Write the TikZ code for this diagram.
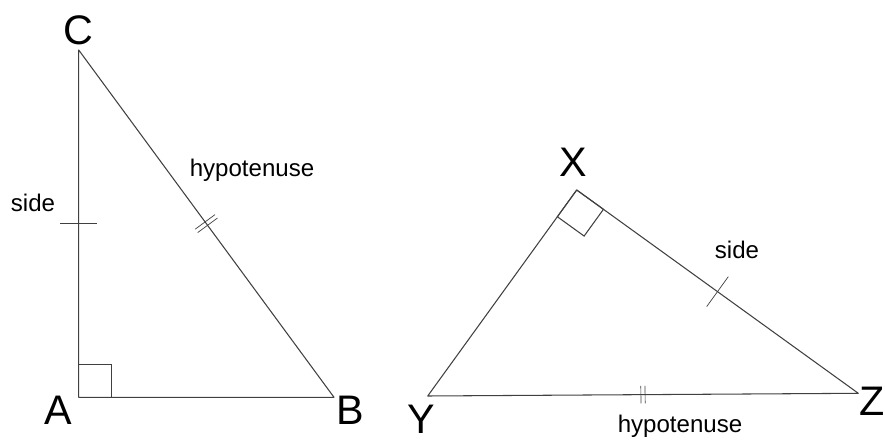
\documentclass[tikz,border=0pt]{standalone}
\usepackage{fontspec}
\setmainfont{Liberation Sans}
\usepackage{tkz-euclide}
\usetikzlibrary{calc}
\definecolor{LineClr}{rgb}{0.25,0.25,0.25}

\begin{document}
\begin{tikzpicture}[
  vtx/.style={font=\fontsize{23.5}{26}\selectfont},
  lbl/.style={font=\fontsize{13.7}{16}\selectfont}]
\useasboundingbox (0,0) rectangle (17.7,8.92);
\tkzSetUpLine[line width=0.6pt,color=LineClr]

\tkzDefPoints{1.574/0.974/A,6.68/0.974/B,1.574/7.92/C}
\tkzDefPoints{11.534/5.12/X,8.554/1.0/Y,17.166/1.054/Z}

\tkzDrawPolygon(A,B,C)
\tkzDrawPolygon(X,Y,Z)

\tkzMarkRightAngles[line width=0.6pt,size=.66,color=LineClr](B,A,C Y,X,Z)

\tkzMarkSegments[mark=|,size=10.5pt,color=LineClr](A,C X,Z)
\tkzMarkSegment[mark=||,size=7pt,color=LineClr](C,B)
\tkzMarkSegment[mark=||,size=5pt,color=LineClr](Y,Z)

\node[vtx] (lC) at ($(C)+(0,0.40)$) {C};
\node[vtx] (lA) at ($(A)+(-0.414,-0.254)$) {A};
\node[vtx] (lB) at ($(B)+(0.32,-0.254)$) {B};
\node[vtx] (lX) at ($(X)+(-0.06,0.55)$) {X};
\node[vtx] (lY) at ($(Y)+(-0.12,-0.46)$) {Y};
\node[vtx,inner sep=0pt] (lZ) at ($(Z)+(0.27,-0.16)$) {Z};

\node[lbl] (sideAC) at (0.66,4.86) {side};
\node[lbl] (hypCB) at (5.04,5.52) {hypotenuse};
\node[lbl] (sideXZ) at (14.74,3.92) {side};
\node[lbl] (hypYZ) at (13.6,0.386) {hypotenuse};

\end{tikzpicture}
\end{document}
